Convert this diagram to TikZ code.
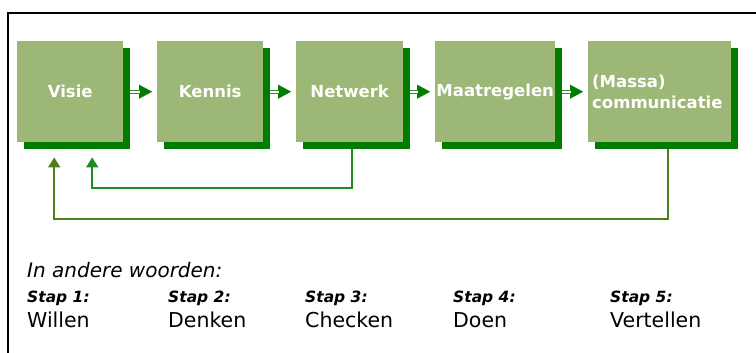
\documentclass[tikz,border=0pt]{standalone}
\usepackage{fontspec}
\setmainfont{DejaVu Sans}
\usetikzlibrary{arrows.meta,shadows}
\definecolor{boxgreen}{HTML}{9DB777}
\definecolor{shadegreen}{HTML}{007D00}
\definecolor{linkgreen}{HTML}{2E922E}
\definecolor{fbgreen}{HTML}{1E8C1E}
\definecolor{fbolive}{HTML}{4B7F19}
\tikzset{
  stepbox/.style={fill=boxgreen, draw=none, inner sep=0pt, anchor=north west,
    minimum height=101pt, text=white, align=left,
    font=\fontsize{16.5}{21}\selectfont\bfseries,
    general shadow={fill=shadegreen, shadow xshift=6.5pt, shadow yshift=-6.5pt}},
  dblline/.style={draw=linkgreen, double=white, double distance=1.8pt, line width=1.1pt, shorten >=17pt},
  tipline/.style={draw=shadegreen, line width=0.2pt, shorten >=5pt, -{Triangle[length=13pt,width=14pt]}},
  fbarrow/.style={line width=1.6pt, -{Triangle[length=10pt,width=12pt]}},
  headtxt/.style={anchor=base west, inner sep=0pt, font=\fontsize{20}{24}\selectfont\itshape},
  staptxt/.style={anchor=base west, inner sep=0pt, font=\fontsize{15.5}{18}\selectfont\bfseries\itshape},
  wordtxt/.style={anchor=base west, inner sep=0pt, font=\fontsize{20.5}{24}\selectfont}
}
\begin{document}
\begin{tikzpicture}[x=1pt,y=-1pt]
\useasboundingbox (0,0) rectangle (756,353);
\draw[line width=2pt] (756,13) -- (8,13) -- (8,353);

\node[stepbox, minimum width=106pt] (visie) at (17,41) {Visie};
\node[stepbox, minimum width=106pt] (kennis) at (157,41) {Kennis};
\node[stepbox, minimum width=107pt] (netwerk) at (296,41) {Netwerk};
\node[stepbox, minimum width=120pt] (maat) at (435,41) {Maatregelen};
\node[stepbox, minimum width=139pt, text width=135pt, inner xsep=4pt] (massa) at (588,41) {(Massa)\\communicatie};

\foreach \a/\b in {visie/kennis, kennis/netwerk, netwerk/maat, maat/massa}{
  \draw[tipline] ([xshift=6.5pt]\a.east) -- (\b.west);
  \draw[dblline] ([xshift=6.5pt]\a.east) -- (\b.west);
}

\draw[fbarrow, fbgreen] ([xshift=2.5pt,yshift=-6.5pt]netwerk.south) -- ++(0,39)
  -| ([xshift=22pt,yshift=-15pt]visie.south);
\draw[fbarrow, fbolive] ([xshift=8.5pt,yshift=-6.5pt]massa.south) -- ++(0,70)
  -| ([xshift=-16pt,yshift=-15pt]visie.south);

\node[headtxt] (head) at (27,277) {In andere woorden:};
\node[staptxt] (s1) at (27,302) {Stap 1:};
\node[staptxt] (s2) at (168,302) {Stap 2:};
\node[staptxt] (s3) at (305,302) {Stap 3:};
\node[staptxt] (s4) at (453,302) {Stap 4:};
\node[staptxt] (s5) at (610,302) {Stap 5:};
\node[wordtxt] (w1) at (27,327) {Willen};
\node[wordtxt] (w2) at (168,327) {Denken};
\node[wordtxt] (w3) at (305,327) {Checken};
\node[wordtxt] (w4) at (453,327) {Doen};
\node[wordtxt] (w5) at (610,327) {Vertellen};
\end{tikzpicture}
\end{document}
